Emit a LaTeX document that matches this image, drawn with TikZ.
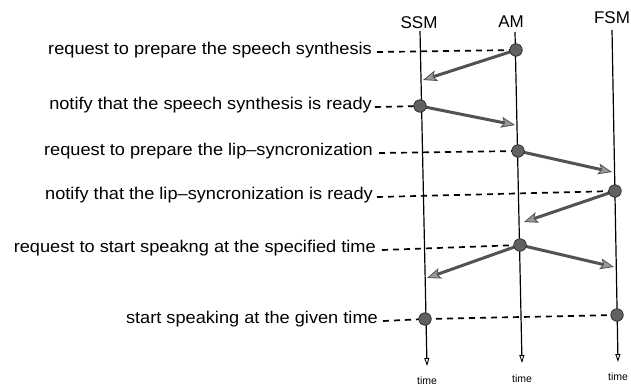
\documentclass[tikz,border=0pt]{standalone}
\usepackage{fontspec}
\setmainfont{Liberation Sans}
\newfontfamily\notefont[FakeStretch=1.07,Ligatures=TeX]{Liberation Sans}
\usetikzlibrary{arrows.meta}
\begin{document}
\begin{tikzpicture}[x=1pt,y=-1pt,
  lifeline/.style={line width=1.2pt,-{Triangle[open,length=8pt,width=5pt,line width=0.9pt]}},
  event/.style={circle,fill=black!62,draw=black!85,line width=0.7pt,minimum size=12.5pt,inner sep=0pt},
  msg/.style={draw=black!68,line width=3pt,-{Stealth[length=14pt,width=11pt,inset=3pt,line width=0.8pt,fill=black!40]}},
  guide/.style={line width=1.7pt,dash pattern=on 6pt off 5pt},
  note/.style={anchor=mid east,inner sep=0pt,font=\notefont\fontsize{17}{19}\selectfont},
  head/.style={inner sep=0pt,font=\fontsize{17}{19}\selectfont},
  tlabel/.style={inner sep=0pt,font=\fontsize{10.5}{12}\selectfont}]
\useasboundingbox (0,0) rectangle (631,389);

% lifeline headings
\node[head] (ssmh) at (419,23) {SSM};
\node[head] (amh)  at (511,22) {AM};
\node[head] (fsmh) at (612,18) {FSM};

% lifelines
\coordinate (ssmtop) at (420,31);  \coordinate (ssmbot) at (427,366);
\coordinate (amtop)  at (515,32);  \coordinate (ambot)  at (522,363);
\coordinate (fsmtop) at (612,30);  \coordinate (fsmbot) at (618,362);
\draw[lifeline] (ssmtop) -- (ssmbot);
\draw[lifeline] (amtop) -- (ambot);
\draw[lifeline] (fsmtop) -- (fsmbot);
\node[tlabel] (ssmt) at (427,381) {time};
\node[tlabel] (amt)  at (522,379) {time};
\node[tlabel] (fsmt) at (618,377) {time};

% event positions
\coordinate (p1) at (516,50);
\coordinate (p2) at (420,106);
\coordinate (p3) at (518,151);
\coordinate (p4) at (615,191);
\coordinate (p5) at (520,245);
\coordinate (p6) at (425,319);
\coordinate (p7) at (617,315);

% message arrival points
\coordinate (q1) at (423,80);
\coordinate (q2) at (515,125);
\coordinate (q3) at (612,172);
\coordinate (q4) at (524,222);
\coordinate (q5) at (427,278);
\coordinate (q6) at (614,267);

% step descriptions
\node[note] (t1) at (372,52)  {request to prepare the speech synthesis};
\node[note] (t2) at (372,107) {notify that the speech synthesis is ready};
\node[note] (t3) at (373,153) {request to prepare the lip--syncronization};
\node[note] (t4) at (373,197) {notify that the lip--syncronization is ready};
\node[note] (t5) at (376,250) {request to start speakng at the specified time};
\node[note] (t6) at (378,321) {start speaking at the given time};

% dashed guides from descriptions to events
\draw[guide] ([xshift=5pt]t1.mid east) -- (p1);
\draw[guide] ([xshift=3pt]t2.mid east) -- (p2);
\draw[guide] ([xshift=6pt]t3.mid east) -- (p3);
\draw[guide] ([xshift=4pt]t4.mid east) -- (p4);
\draw[guide] ([xshift=6pt]t5.mid east) -- (p5);
\draw[guide] ([xshift=5pt]t6.mid east) -- (p6);
\draw[guide] (p6) -- (p7);

% messages
\draw[msg] (p1) -- (q1);
\draw[msg] (p2) -- (q2);
\draw[msg] (p3) -- (q3);
\draw[msg] (p4) -- (q4);
\draw[msg] (p5) -- (q5);
\draw[msg] (p5) -- (q6);

% event dots
\foreach \i in {1,...,7} \node[event] (e\i) at (p\i) {};
\end{tikzpicture}
\end{document}
